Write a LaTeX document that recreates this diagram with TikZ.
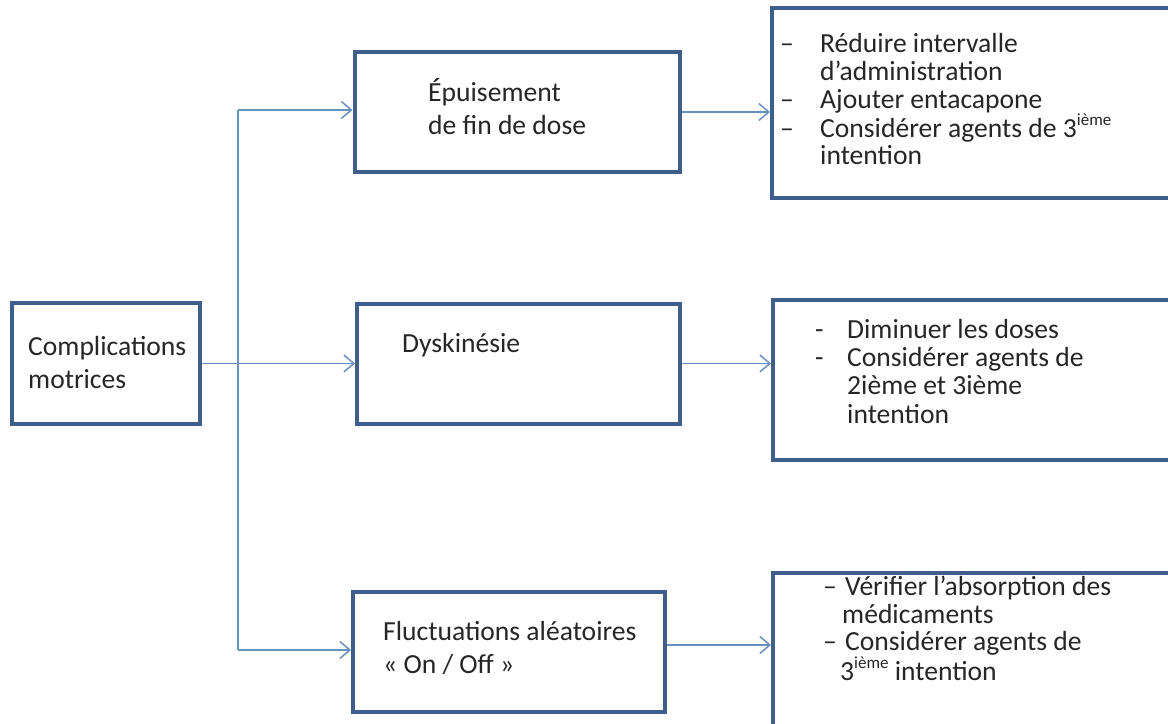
\documentclass[tikz,border=0pt]{standalone}
\usepackage{fontspec}
\setmainfont{Carlito}
\usetikzlibrary{arrows.meta}
\definecolor{boxc}{HTML}{3F5F8A}
\definecolor{linec}{HTML}{6A90BE}
\definecolor{txtc}{HTML}{262626}
\newcommand{\supx}[1]{\raisebox{0.42em}{\fontsize{17bp}{17bp}\selectfont #1}}
\begin{document}
\begin{tikzpicture}[x=1bp,y=-1bp,
  box/.style={draw=boxc, line width=4bp, fill=white, rectangle, inner sep=0pt},
  txtn/.style={align=left, inner sep=0pt, text=txtc, anchor=base west, font=\fontsize{27.6bp}{33bp}\selectfont},
  lst/.style={txtn, font=\fontsize{27.6bp}{27.7bp}\selectfont},
  conn/.style={draw=linec, line width=1.5bp},
  arr/.style={conn, -{Straight Barb[length=10bp, width=17bp, line width=1.5bp]}}
]
\path[use as bounding box] (0,0) rectangle (1168,724);
\clip (0,0) rectangle (1168,724);
\fill[white] (0,0) rectangle (1168,724);

% boxes
\node[box, minimum width=188bp, minimum height=121bp] (L) at (106,363.5) {};
\node[box, minimum width=325bp, minimum height=120bp] (E) at (517,112) {};
\node[box, minimum width=323bp, minimum height=120bp] (D) at (518.5,363.5) {};
\node[box, minimum width=312bp, minimum height=120bp] (F) at (509,652) {};
\node[box, minimum width=420bp, minimum height=190bp] (R1) at (982,103) {};
\node[box, minimum width=420bp, minimum height=160bp] (R2) at (983,380) {};
\node[box, minimum width=420bp, minimum height=180bp] (R3) at (983,663) {};

% texts (base anchor = baseline of the last line)
\node[txtn] (tL) at (28,388) {Complications\\motrices};
\node[txtn] (tE) at (428,135) {Épuisement\\de fin de dose};
\node[txtn] (tD) at (402,352) {Dyskinésie};
\node[txtn] (tF) at (383,673) {Fluctuations aléatoires\\« On / Off »};
\node[lst] (tR1) at (780,165) {\makebox[40bp][l]{–}Réduire intervalle\\
\hspace*{40bp}d’administration\\
\makebox[40bp][l]{–}Ajouter entacapone\\
\makebox[40bp][l]{–}Considérer agents de 3\supx{ième}\\
\hspace*{40bp}intention};
\node[lst, font=\fontsize{27.6bp}{28.3bp}\selectfont] (tR2) at (815,423) {\makebox[32bp][l]{-}Diminuer les doses\\
\makebox[32bp][l]{-}Considérer agents de\\
\hspace*{32bp}2ième et 3ième\\
\hspace*{32bp}intention};
\node[lst] (tR3) at (823,680) {\makebox[22bp][l]{–}Vérifier l’absorption des\\
\hspace*{19bp}médicaments\\
\makebox[22bp][l]{–}Considérer agents de\\
\hspace*{17bp}3\supx{ième} intention};

% connectors
\coordinate (jE) at (238,110);
\coordinate (jF) at (238,650);
\draw[conn] (jE) -- (jF);
\draw[arr] (jE) -- (jE -| E.west);
\draw[arr] (L.east) -- (D.west);
\draw[arr] (jF) -- (jF -| F.west);
\draw[arr] (E.east) -- (E.east -| R1.west);
\draw[arr] (D.east) -- (D.east -| R2.west);
\draw[arr] ([yshift=7bp]F.east) -- ([yshift=7bp]F.east -| R3.west);
\end{tikzpicture}
\end{document}
